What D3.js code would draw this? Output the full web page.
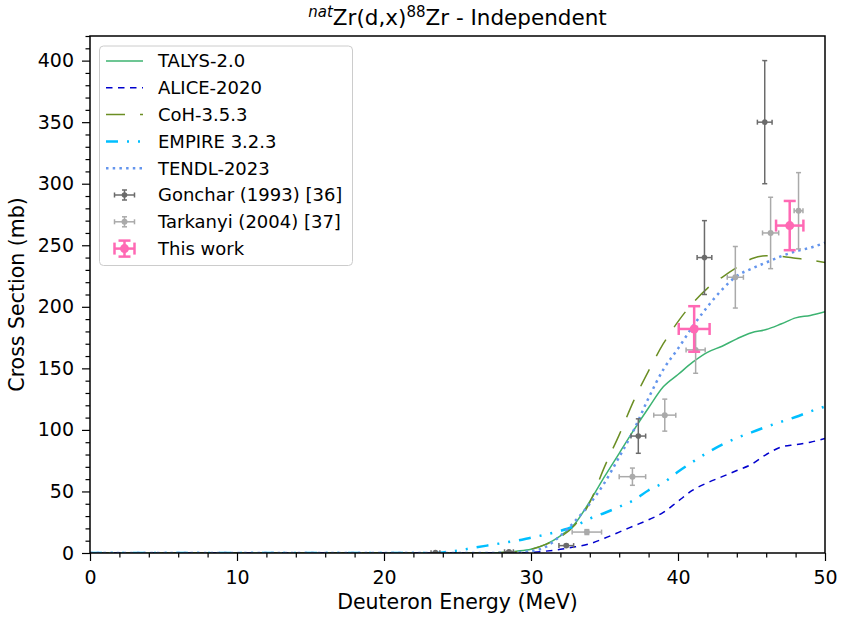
<!DOCTYPE html>
<html>
<head>
<meta charset="utf-8">
<script src="https://cdn.jsdelivr.net/npm/d3@7/dist/d3.min.js"></script>
<style>
  body { margin: 0; background: #fff; }
  svg { display: block; font-family: "DejaVu Sans", sans-serif; }
</style>
</head>
<body>
<svg id="chart" width="842" height="620"></svg>
<script>
// Deuteron energy grid (MeV) for the model curves
const energies = [0, 10, 20, 23, 24, 25, 26, 27, 28, 29, 30, 31, 32, 33, 34, 35, 36, 37, 38, 39,
                  40, 41, 42, 43, 44, 45, 46, 47, 48, 49, 50];

// Model cross sections (mb) on the grid above
const talys  = [0, 0, 0, 0, 0, 0, 0, 0.2, 0.5, 1.5, 3, 7, 14, 24, 42, 62, 81, 100, 118, 135,
                145, 155, 163, 168, 174, 179, 181.5, 186, 191, 193, 196];
const alice  = [0, 0, 0, 0, 0, 0, 0, 0, 0, 0, 0.5, 1.5, 3, 5, 7.5, 12, 17, 22, 27, 33,
                42, 51, 57, 62, 67, 72, 80, 86, 88, 90, 93];
const coh    = [0, 0, 0, 0, 0, 0, 0, 0.2, 0.5, 1, 3, 7, 13, 23, 41, 70, 96, 124, 148, 170,
                188, 203, 215, 224, 232, 239, 241.5, 241, 239.5, 238, 236];
const empire = [0, 0, 0, 0, 0.5, 2, 4, 6, 8, 10, 12.5, 15, 18, 22, 28, 32.5, 37.5, 43, 51, 57,
                66, 74, 81.5, 88, 93.5, 98, 102.5, 106.5, 110.5, 115, 119];
const tendl  = [0, 0, 0, 0, 0, 0, 0, 0, 0.2, 0.5, 1.5, 5, 14, 26, 40, 57, 78, 100, 126, 149,
                166, 184, 200, 214, 225, 231, 236, 241, 245, 248, 252];

// Experimental data: energy, energy error, cross section, cross-section error
const goncharE   = [23.5, 28.5, 32.4, 37.3, 41.8, 45.9];
const goncharDE  = [0.3, 0.3, 0.5, 0.5, 0.5, 0.5];
const goncharXS  = [0.3, 1, 6, 95, 240, 350];
const goncharDXS = [0.2, 0.5, 1, 14, 30, 50];

const tarkanyiE   = [33.8, 36.9, 39.1, 41.2, 43.9, 46.3, 48.2];
const tarkanyiDE  = [1.0, 0.9, 0.75, 0.65, 0.55, 0.55, 0.3];
const tarkanyiXS  = [17, 62, 112, 165, 224, 260, 278];
const tarkanyiDXS = [2, 7, 13, 19, 25, 29, 31];

const thisE   = [41.1, 47.6];
const thisDE  = [1.05, 0.93];
const thisXS  = [182, 266];
const thisDXS = [18.5, 20];

const xTicks = [0, 10, 20, 30, 40, 50];
const yTicks = [0, 50, 100, 150, 200, 250, 300, 350, 400];

const svg = d3.select("#chart");
const mLeft = 90, mRight = 825, mTop = 36, mBottom = 553;

const x = d3.scaleLinear().domain([0, 50]).range([mLeft, mRight]);
const y = d3.scaleLinear().domain([0, 420]).range([mBottom, mTop]);

svg.append("defs").append("clipPath").attr("id", "plotclip")
  .append("rect").attr("x", mLeft).attr("y", mTop).attr("width", mRight - mLeft).attr("height", mBottom - mTop);

// Model curves
const models = [
  { name: "TALYS-2.0",    vals: talys,  color: "#3cb371", width: 1.5, dash: null },
  { name: "ALICE-2020",   vals: alice,  color: "#0000cd", width: 1.5, dash: "6.5,5.5" },
  { name: "CoH-3.5.3",    vals: coh,    color: "#6b8e23", width: 1.5, dash: "19,15" },
  { name: "EMPIRE 3.2.3", vals: empire, color: "#00bfff", width: 2.5, dash: "12,9,2,9,2,9" },
  { name: "TENDL-2023",   vals: tendl,  color: "#6495ed", width: 2.5, dash: "2.5,4.2" }
];

const plot = svg.append("g").attr("clip-path", "url(#plotclip)");
const line = d3.line().curve(d3.curveMonotoneX);

models.forEach(m => {
  plot.append("path")
    .attr("d", line(energies.map((e, i) => [x(e), y(m.vals[i])])))
    .attr("fill", "none")
    .attr("stroke", m.color)
    .attr("stroke-width", m.width)
    .attr("stroke-dasharray", m.dash);
});

// Error-bar sets
function errorbars(g, E, dE, XS, dXS, opt) {
  E.forEach((e, i) => {
    const cx = x(e), cy = y(XS[i]);
    const x0 = x(e - dE[i]), x1 = x(e + dE[i]);
    const y0 = y(XS[i] - dXS[i]), y1 = y(XS[i] + dXS[i]);
    const seg = (a, b, c, d) => g.append("line").attr("x1", a).attr("y1", b).attr("x2", c).attr("y2", d)
      .attr("stroke", opt.color).attr("stroke-width", opt.lw);
    seg(x0, cy, x1, cy);
    seg(cx, y0, cx, y1);
    seg(cx - opt.cap, y0, cx + opt.cap, y0);
    seg(cx - opt.cap, y1, cx + opt.cap, y1);
    seg(x0, cy - opt.cap, x0, cy + opt.cap);
    seg(x1, cy - opt.cap, x1, cy + opt.cap);
    g.append("circle").attr("cx", cx).attr("cy", cy).attr("r", opt.r).attr("fill", opt.color);
  });
}

const series = [
  { name: "Gonchar (1993) [36]",  E: goncharE,  dE: goncharDE,  XS: goncharXS,  dXS: goncharDXS,
    opt: { color: "#6b6b6b", lw: 1.5, cap: 2.5, r: 2.8 } },
  { name: "Tarkanyi (2004) [37]", E: tarkanyiE, dE: tarkanyiDE, XS: tarkanyiXS, dXS: tarkanyiDXS,
    opt: { color: "#aaaaaa", lw: 1.5, cap: 2.5, r: 3 } },
  { name: "This work",            E: thisE,     dE: thisDE,     XS: thisXS,     dXS: thisDXS,
    opt: { color: "#ff69b4", lw: 2.5, cap: 6, r: 4.5 } }
];
series.forEach(sr => errorbars(plot.append("g"), sr.E, sr.dE, sr.XS, sr.dXS, sr.opt));

// Axes
const xAxis = svg.append("g").attr("transform", `translate(0,${mBottom})`)
  .call(d3.axisBottom(x).tickValues(xTicks).tickSize(8).tickPadding(10).tickFormat(d3.format("d")));
const xMinor = svg.append("g").attr("transform", `translate(0,${mBottom})`)
  .call(d3.axisBottom(x).tickValues(d3.range(0, 51, 2).filter(v => v % 10 !== 0)).tickSize(4.5).tickFormat(""));
const yAxis = svg.append("g").attr("transform", `translate(${mLeft},0)`)
  .call(d3.axisLeft(y).tickValues(yTicks).tickSize(8).tickPadding(8).tickFormat(d3.format("d")));
const yMinor = svg.append("g").attr("transform", `translate(${mLeft},0)`)
  .call(d3.axisLeft(y).tickValues(d3.range(0, 421, 10).filter(v => v % 50 !== 0)).tickSize(4.5).tickFormat(""));

[xAxis, xMinor, yAxis, yMinor].forEach(a => {
  a.select(".domain").remove();
  a.selectAll(".tick line").attr("stroke", "#000").attr("stroke-width", 1.2);
  a.selectAll("text").attr("font-family", "DejaVu Sans").attr("font-size", 19).attr("fill", "#000");
});

// Frame
svg.append("rect").attr("x", mLeft).attr("y", mTop).attr("width", mRight - mLeft).attr("height", mBottom - mTop)
  .attr("fill", "none").attr("stroke", "#000").attr("stroke-width", 1.5);

// Axis labels and title
svg.append("text").attr("x", (mLeft + mRight) / 2).attr("y", 609).attr("text-anchor", "middle")
  .attr("font-size", 20.5).text("Deuteron Energy (MeV)");
svg.append("text").attr("transform", `translate(24,${(mTop + mBottom) / 2}) rotate(-90)`)
  .attr("text-anchor", "middle").attr("font-size", 20.5).text("Cross Section (mb)");

const title = svg.append("text").attr("x", (mLeft + mRight) / 2).attr("y", 25)
  .attr("text-anchor", "middle").attr("font-size", 21.5);
title.append("tspan").attr("font-style", "italic").attr("font-size", 15).attr("dy", -8).text("nat");
title.append("tspan").attr("dy", 8).text("Zr(d,x)");
title.append("tspan").attr("font-size", 15).attr("dy", -8).text("88");
title.append("tspan").attr("dy", 8).text("Zr - Independent");

// Legend
const legend = svg.append("g");
legend.append("rect").attr("x", 99.5).attr("y", 46).attr("width", 253).attr("height", 219.5)
  .attr("rx", 4).attr("fill", "#fff").attr("fill-opacity", 0.8)
  .attr("stroke", "#cccccc").attr("stroke-width", 1);

const rowY = i => 61 + i * 26.8;
const sx0 = 106, sx1 = 143, tx = 158;
models.forEach((m, i) => {
  legend.append("line").attr("x1", sx0).attr("x2", sx1).attr("y1", rowY(i)).attr("y2", rowY(i))
    .attr("stroke", m.color).attr("stroke-width", m.width).attr("stroke-dasharray", m.dash);
  legend.append("text").attr("x", tx).attr("y", rowY(i)).attr("dy", "0.35em")
    .attr("font-size", 18).text(m.name);
});
series.forEach((sr, j) => {
  const i = models.length + j, cy = rowY(i), cx = (sx0 + sx1) / 2, o = sr.opt;
  const hx = 10, vy = o.cap > 3 ? 8 : 5;
  const seg = (a, b, c, d) => legend.append("line").attr("x1", a).attr("y1", b).attr("x2", c).attr("y2", d)
    .attr("stroke", o.color).attr("stroke-width", o.lw);
  seg(cx - hx, cy, cx + hx, cy);
  seg(cx, cy - vy, cx, cy + vy);
  seg(cx - o.cap, cy - vy, cx + o.cap, cy - vy);
  seg(cx - o.cap, cy + vy, cx + o.cap, cy + vy);
  seg(cx - hx, cy - o.cap, cx - hx, cy + o.cap);
  seg(cx + hx, cy - o.cap, cx + hx, cy + o.cap);
  legend.append("circle").attr("cx", cx).attr("cy", cy).attr("r", o.r).attr("fill", o.color);
  legend.append("text").attr("x", tx).attr("y", cy).attr("dy", "0.35em")
    .attr("font-size", 18).text(sr.name);
});
</script>
</body>
</html>
